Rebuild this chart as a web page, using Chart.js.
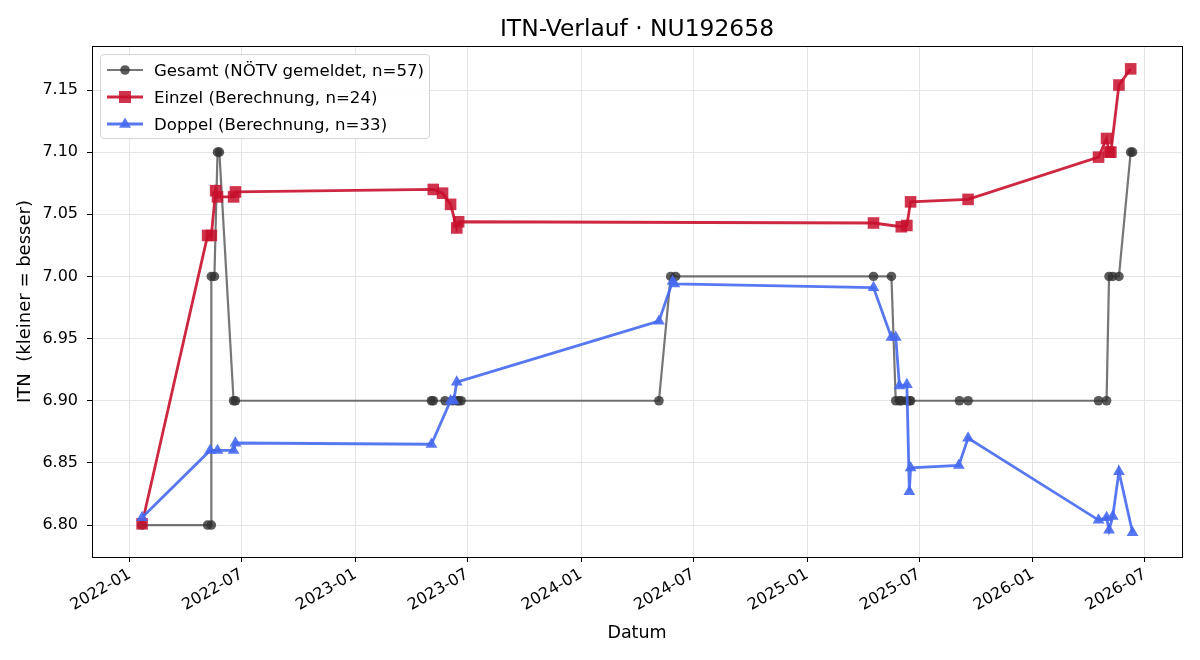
<!DOCTYPE html>
<html>
<head>
<meta charset="utf-8">
<script src="https://cdn.jsdelivr.net/npm/chart.js@4.4.1/dist/chart.umd.min.js"></script>
<style>
  body { margin: 0; background: #fff; font-family: "DejaVu Sans", sans-serif; }
  #wrap { position: relative; width: 1200px; height: 660px; }
  #title { position: absolute; left: 92px; width: 1090px; top: 14px; line-height: 28px;
           text-align: center; font-size: 23.4px; color: #000; }
  #legend { position: absolute; left: 100px; top: 54px; width: 328px; height: 83px;
            border: 1px solid #d4d4d4; border-radius: 4px; background: rgba(255,255,255,0.85);
            font-size: 16.6px; color: #000; }
  .row { position: absolute; left: 5px; height: 22px; display: flex; align-items: center; }
  .row svg { margin-right: 10px; }
</style>
</head>
<body>
<div id="wrap">
  <canvas id="chart" width="1200" height="660"></canvas>
  <div id="title">ITN-Verlauf · NU192658</div>
  <div id="legend">
    <div class="row" style="top:4px">
      <svg width="38" height="20"><line x1="1" y1="10" x2="37" y2="10" stroke="rgba(60,60,60,0.7)" stroke-width="2.2"/><circle cx="19" cy="10" r="4.8" fill="rgba(50,50,50,0.8)"/></svg>
      <span>Gesamt (NÖTV gemeldet, n=57)</span>
    </div>
    <div class="row" style="top:31px">
      <svg width="38" height="20"><line x1="1" y1="10" x2="37" y2="10" stroke="rgba(200,16,46,0.9)" stroke-width="2.8"/><rect x="13" y="4" width="12" height="12" fill="rgba(200,16,46,0.85)"/></svg>
      <span>Einzel (Berechnung, n=24)</span>
    </div>
    <div class="row" style="top:58px">
      <svg width="38" height="20"><line x1="1" y1="10" x2="37" y2="10" stroke="rgba(70,105,240,0.9)" stroke-width="2.8"/><polygon points="19,3.5 25,13.8 13,13.8" fill="rgba(70,105,240,0.9)"/></svg>
      <span>Doppel (Berechnung, n=33)</span>
    </div>
  </div>
</div>
<script>
// Gesamt (NÖTV gemeldet)
const gesamtDates = ['2022-01-21', '2022-05-07', '2022-05-13', '2022-05-13', '2022-05-18', '2022-05-23',
  '2022-05-26', '2022-06-18', '2022-06-21', '2023-05-04', '2023-05-07', '2023-05-26', '2023-06-07',
  '2023-06-14', '2023-06-17', '2023-06-21', '2024-05-06', '2024-05-25', '2024-06-02', '2025-04-18',
  '2025-05-17', '2025-05-24', '2025-05-30', '2025-06-02', '2025-06-11', '2025-06-15', '2025-06-17',
  '2025-09-04', '2025-09-18', '2026-04-17', '2026-04-30', '2026-05-04', '2026-05-10', '2026-05-20',
  '2026-06-08', '2026-06-11'];
const gesamtValues = [6.80, 6.80, 6.80, 7.00, 7.00, 7.10,
  7.10, 6.90, 6.90, 6.90, 6.90, 6.90, 6.90,
  6.90, 6.90, 6.90, 6.90, 7.00, 7.00, 7.00,
  7.00, 6.90, 6.90, 6.90, 6.90, 6.90, 6.90,
  6.90, 6.90, 6.90, 6.90, 7.00, 7.00, 7.00,
  7.10, 7.10];

// Einzel (Berechnung)
const einzelDates = ['2022-01-21', '2022-05-07', '2022-05-13', '2022-05-20', '2022-05-23', '2022-06-18',
  '2022-06-21', '2023-05-07', '2023-05-22', '2023-06-04', '2023-06-14', '2023-06-17', '2025-04-18',
  '2025-06-02', '2025-06-11', '2025-06-17', '2025-09-18', '2026-04-17', '2026-04-30', '2026-05-04',
  '2026-05-07', '2026-05-20', '2026-06-08'];
const einzelValues = [6.801, 7.033, 7.033, 7.069, 7.064, 7.064,
  7.068, 7.070, 7.067, 7.058, 7.039, 7.044, 7.043,
  7.040, 7.041, 7.060, 7.062, 7.096, 7.111, 7.100,
  7.100, 7.154, 7.167];

// Doppel (Berechnung)
const doppelDates = ['2022-01-21', '2022-05-11', '2022-05-23', '2022-06-18', '2022-06-21', '2023-05-04',
  '2023-06-04', '2023-06-09', '2023-06-14', '2024-05-06', '2024-05-28', '2024-05-31', '2025-04-18',
  '2025-05-17', '2025-05-24', '2025-05-30', '2025-06-11', '2025-06-15', '2025-06-17', '2025-09-03',
  '2025-09-18', '2026-04-17', '2026-04-30', '2026-05-04', '2026-05-10', '2026-05-20', '2026-06-11'];
const doppelValues = [6.806, 6.860, 6.860, 6.860, 6.866, 6.865,
  6.900, 6.900, 6.915, 6.964, 6.996, 6.994, 6.991,
  6.951, 6.951, 6.912, 6.913, 6.827, 6.846, 6.848,
  6.870, 6.804, 6.806, 6.796, 6.807, 6.843, 6.794];

const xTickDates = ['2022-01-01', '2022-07-01', '2023-01-01', '2023-07-01', '2024-01-01',
  '2024-07-01', '2025-01-01', '2025-07-01', '2026-01-01', '2026-07-01'];
const yTicks = [6.80, 6.85, 6.90, 6.95, 7.00, 7.05, 7.10, 7.15];

function toTime(s) {
  const [y, m, d] = s.split('-').map(Number);
  return Date.UTC(y, m - 1, d);
}

function points(dates, values) {
  return dates.map((d, i) => ({ x: toTime(d), y: values[i] }));
}

function monthLabel(t) {
  const d = new Date(t);
  return d.getUTCFullYear() + '-' + String(d.getUTCMonth() + 1).padStart(2, '0');
}

// axes frame like matplotlib spines
const frame = {
  id: 'frame',
  afterDatasetsDraw(chart) {
    const { ctx, chartArea: a } = chart;
    ctx.save();
    ctx.strokeStyle = '#000';
    ctx.lineWidth = 1;
    ctx.strokeRect(Math.round(a.left) + 0.5, Math.round(a.top) + 0.5,
      Math.round(a.right - a.left), Math.round(a.bottom - a.top));
    ctx.restore();
  }
};

Chart.defaults.font.family = '"DejaVu Sans", sans-serif';
Chart.defaults.color = '#000';

const gridColor = '#e4e4e4';

new Chart(document.getElementById('chart'), {
  type: 'line',
  data: {
    datasets: [
      {
        label: 'Gesamt (NÖTV gemeldet, n=57)',
        data: points(gesamtDates, gesamtValues),
        borderColor: 'rgba(60,60,60,0.7)',
        borderWidth: 2.2,
        pointStyle: 'circle',
        pointRadius: 4.8,
        pointBackgroundColor: 'rgba(50,50,50,0.8)',
        pointBorderWidth: 0,
        order: 3
      },
      {
        label: 'Einzel (Berechnung, n=24)',
        data: points(einzelDates, einzelValues),
        borderColor: 'rgba(200,16,46,0.9)',
        borderWidth: 2.8,
        pointStyle: 'rect',
        pointRadius: 8.2,
        pointBackgroundColor: 'rgba(200,16,46,0.85)',
        pointBorderWidth: 0,
        order: 2
      },
      {
        label: 'Doppel (Berechnung, n=33)',
        data: points(doppelDates, doppelValues),
        borderColor: 'rgba(70,105,240,0.9)',
        borderWidth: 2.8,
        pointStyle: 'triangle',
        pointRadius: 6.8,
        pointBackgroundColor: 'rgba(70,105,240,0.9)',
        pointBorderWidth: 0,
        order: 1
      }
    ]
  },
  options: {
    responsive: false,
    animation: false,
    layout: { padding: { top: 46, right: 18, left: 0, bottom: 0 } },
    plugins: { legend: { display: false }, tooltip: { enabled: false } },
    scales: {
      x: {
        type: 'linear',
        min: toTime('2021-11-01'),
        max: toTime('2026-08-30'),
        afterFit(scale) { scale.height = 103; },
        afterBuildTicks(scale) { scale.ticks = xTickDates.map(d => ({ value: toTime(d) })); },
        ticks: {
          autoSkip: false, minRotation: 30, maxRotation: 30, padding: 3,
          font: { size: 16 }, callback: v => monthLabel(v)
        },
        grid: { color: gridColor, tickColor: '#000', tickLength: 5 },
        border: { display: false },
        title: { display: true, text: 'Datum', font: { size: 17.5 }, padding: { top: 4, bottom: 16 } }
      },
      y: {
        min: 6.7743,
        max: 7.1854,
        afterFit(scale) { scale.width = 92; },
        afterBuildTicks(scale) { scale.ticks = yTicks.map(v => ({ value: v })); },
        ticks: { padding: 9, font: { size: 16 }, callback: v => v.toFixed(2) },
        grid: { color: gridColor, tickColor: '#000', tickLength: 5 },
        border: { display: false },
        title: { display: true, text: 'ITN  (kleiner = besser)', font: { size: 18 }, padding: { top: 15, bottom: 4 } }
      }
    }
  },
  plugins: [frame]
});
</script>
</body>
</html>
